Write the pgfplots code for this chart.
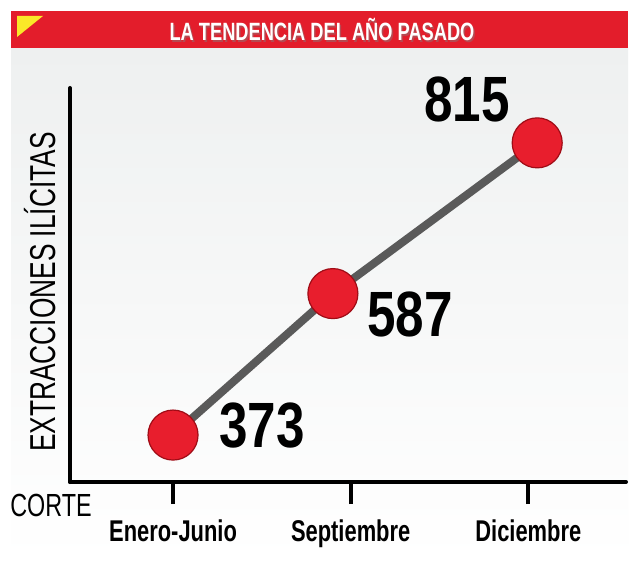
\documentclass[border=0pt]{standalone}
\usepackage{pgfplots}
\pgfplotsset{compat=1.18}
\usepackage{fontspec}
\setmainfont{Liberation Sans}
\newfontfamily\cond{Liberation Sans}[FakeStretch=0.73]
\newfontfamily\condn{Liberation Sans}[FakeStretch=0.8]
\definecolor{bannerred}{RGB}{227,29,43}
\definecolor{ballred}{RGB}{232,30,45}
\definecolor{balldark}{RGB}{160,12,22}
\definecolor{linegray}{RGB}{90,90,90}
\definecolor{panelgray}{RGB}{238,240,240}
\definecolor{triyellow}{RGB}{250,232,40}
\begin{document}
\begin{tikzpicture}
\path[use as bounding box] (0,0) rectangle (320pt,286pt);
\begin{scope}[x=0.5pt,y=-0.5pt,shift={(0,286pt)}]
  \fill[white] (0,0) rectangle (640,572);
  \shade[top color=panelgray, bottom color=white] (11,48) rectangle (628,560);
  \fill[bannerred] (11,11) rectangle (628,48);
  \fill[triyellow] (17,16) -- (43,16) -- (17,37) -- cycle;
  \node[text=black!50, opacity=0.45] at (323.5,32) {\cond\bfseries\fontsize{12.5}{12.5}\selectfont LA TENDENCIA DEL AÑO PASADO};
  \node[text=white] at (322,30) {\cond\bfseries\fontsize{12.5}{12.5}\selectfont LA TENDENCIA DEL AÑO PASADO};
  \node at (51,505) {\cond\fontsize{16}{16}\selectfont CORTE};
  \node[rotate=90] at (40,292) {\cond\fontsize{18}{18}\selectfont EXTRACCIONES ILÍCITAS};
\end{scope}
\begin{axis}[
  at={(35pt,45pt)}, anchor=south west,
  scale only axis, width=278pt, height=197pt,
  xmin=-0.58, xmax=2.55, ymin=302, ymax=898,
  axis x line*=bottom, axis y line*=left,
  axis line style={-, line width=2pt, black, line cap=round},
  xtick={0,1,2}, xticklabels={Enero-Junio,Septiembre,Diciembre},
  ytick=\empty,
  tick align=outside, major tick length=11pt,
  xtick style={line width=2pt, black},
  xticklabel style={font=\cond\bfseries\fontsize{15}{15}\selectfont, yshift=-4.5pt},
  clip=false,
]
\addplot[linegray, line width=4pt, mark=*, mark size=12.5pt,
  mark options={fill=ballred, draw=balldark, line width=0.6pt}]
  coordinates {(0,373) (0.90,587) (2.05,815)};
\node at (axis cs:0,373) [xshift=44.5pt, yshift=5pt] {\condn\bfseries\fontsize{32}{32}\selectfont 373};
\node at (axis cs:0.90,587) [xshift=38.5pt, yshift=-10.5pt] {\condn\bfseries\fontsize{32}{32}\selectfont 587};
\node at (axis cs:2.05,815) [xshift=-35pt, yshift=21.5pt] {\condn\bfseries\fontsize{32}{32}\selectfont 815};
\end{axis}
\end{tikzpicture}
\end{document}
